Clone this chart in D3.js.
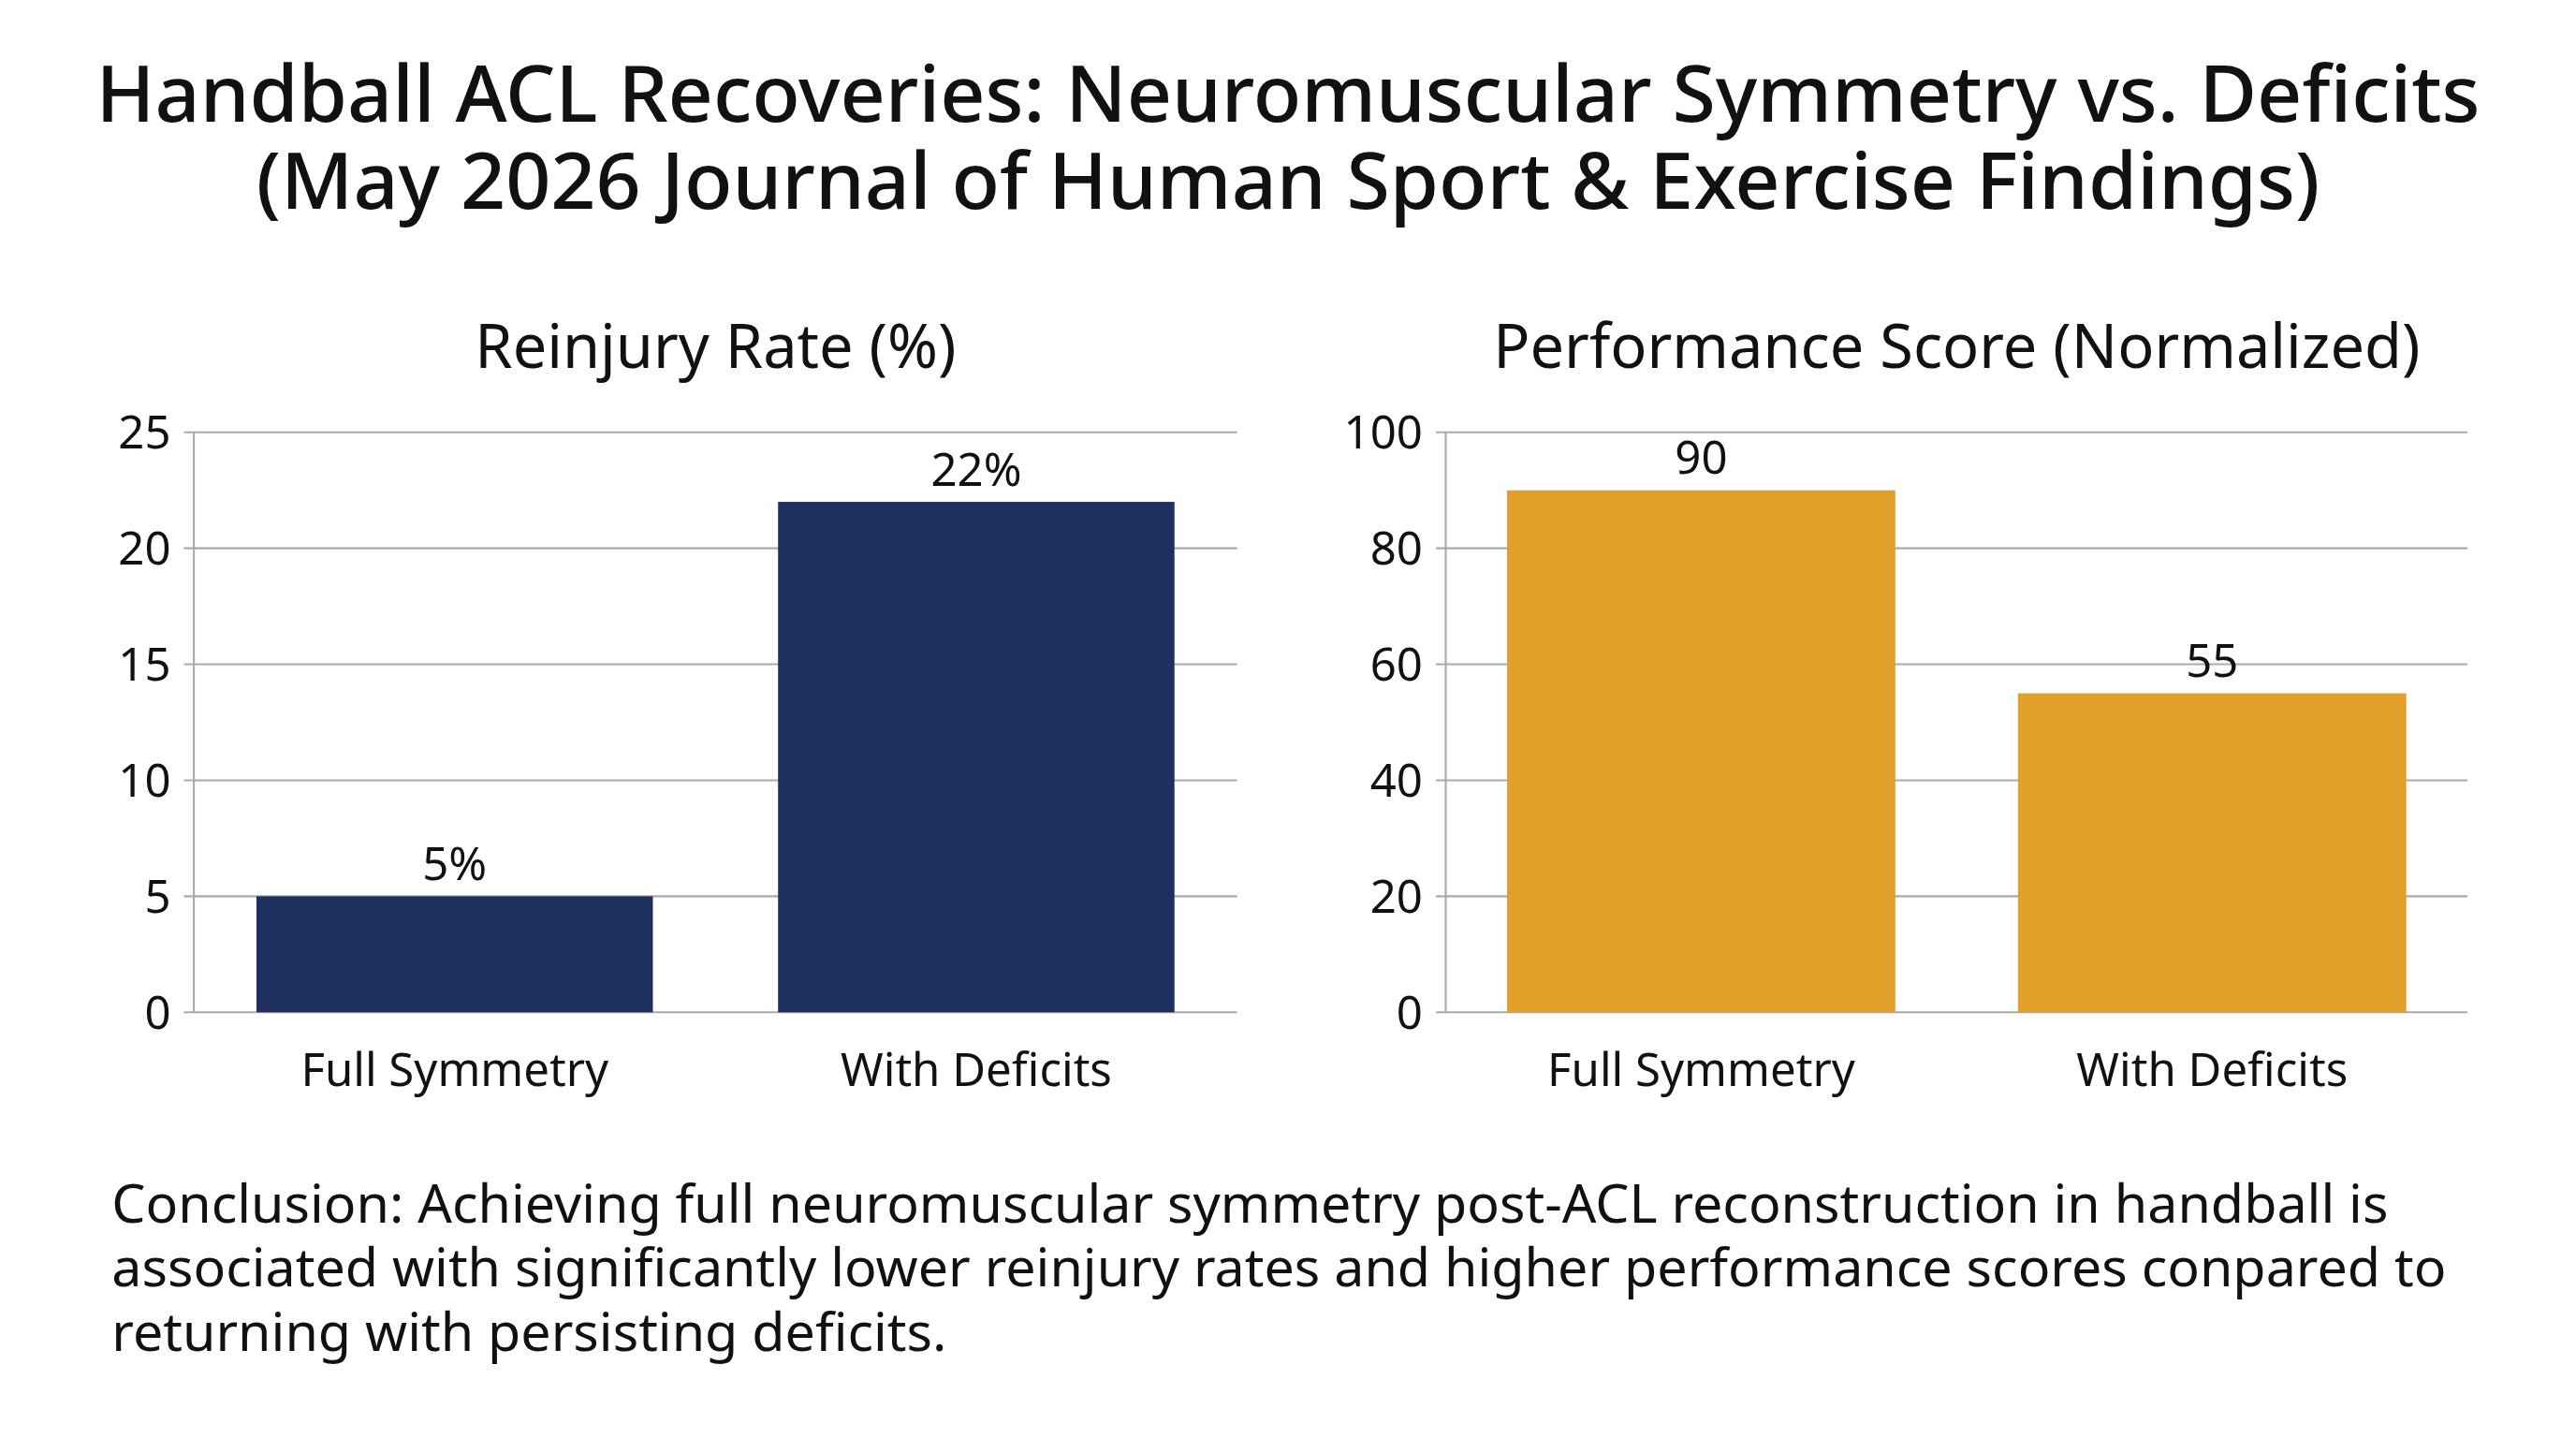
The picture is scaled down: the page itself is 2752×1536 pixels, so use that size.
<!DOCTYPE html>
<html><head><meta charset="utf-8">
<script src="https://cdn.jsdelivr.net/npm/d3@7"></script>
<style>html,body{margin:0;background:#fff}svg{display:block}text{font-family:"Noto Sans",sans-serif;fill:#111}</style>
</head><body>
<script>
const categories = ["Full Symmetry", "With Deficits"];
const reinjury = [5, 22];
const reinjuryTicks = [0, 5, 10, 15, 20, 25];
const performance = [90, 55];
const performanceTicks = [0, 20, 40, 60, 80, 100];
const titleLines = ["Handball ACL Recoveries: Neuromuscular Symmetry vs. Deficits", "(May 2026 Journal of Human Sport & Exercise Findings)"];
const conclusion = ["Conclusion: Achieving full neuromuscular symmetry post-ACL reconstruction in handball is", "associated with significantly lower reinjury rates and higher performance scores conpared to", "returning with persisting deficits."];

const svg = d3.select("body").append("svg").attr("width", 2752).attr("height", 1536).attr("viewBox", "0 0 1568 875");
svg.selectAll(".t").data(titleLines).enter().append("text").attr("x", 784).attr("y", (d,i)=>74+i*53)
  .attr("text-anchor","middle").attr("font-size",48).attr("font-weight",500).text(d=>d);

function panel(x0, x1, vals, ticks, max, color, title, fmt){
  const y = d3.scaleLinear().domain([0,max]).range([616,263]);
  const x = d3.scaleBand().domain(categories).range([x0,x1]).paddingInner(0.24).paddingOuter(0.12);
  const g = svg.append("g");
  g.append("text").attr("x",(x0+x1)/2).attr("y",224).attr("text-anchor","middle").attr("font-size",37).text(title);
  g.selectAll(".g").data(ticks).enter().append("line").attr("x1",x0-6).attr("x2",x1).attr("y1",d=>y(d)).attr("y2",d=>y(d)).attr("stroke","#aaa").attr("stroke-width",1.2);
  g.append("line").attr("x1",x0).attr("x2",x0).attr("y1",263).attr("y2",616).attr("stroke","#aaa").attr("stroke-width",1.2);
  g.selectAll(".tl").data(ticks).enter().append("text").attr("x",x0-14).attr("y",d=>y(d)+10).attr("text-anchor","end").attr("font-size",28).text(d=>d);
  g.selectAll(".b").data(vals).enter().append("rect").attr("x",(d,i)=>x(categories[i])).attr("width",x.bandwidth())
    .attr("y",d=>y(d)).attr("height",d=>616-y(d)).attr("fill",color);
  g.selectAll(".v").data(vals).enter().append("text").attr("x",(d,i)=>x(categories[i])+x.bandwidth()/2).attr("y",d=>y(d)-10)
    .attr("text-anchor","middle").attr("font-size",28).text(fmt);
  g.selectAll(".c").data(categories).enter().append("text").attr("x",d=>x(d)+x.bandwidth()/2).attr("y",661)
    .attr("text-anchor","middle").attr("font-size",28).text(d=>d);
}
panel(118, 753, reinjury, reinjuryTicks, 25, "#1f3060", "Reinjury Rate (%)", d=>d+"%");
panel(880, 1502, performance, performanceTicks, 100, "#e0a02a", "Performance Score (Normalized)", d=>d);

svg.selectAll(".cc").data(conclusion).enter().append("text").attr("x",68).attr("y",(d,i)=>744+i*39).attr("font-size",32.7).text(d=>d);
</script></body></html>
